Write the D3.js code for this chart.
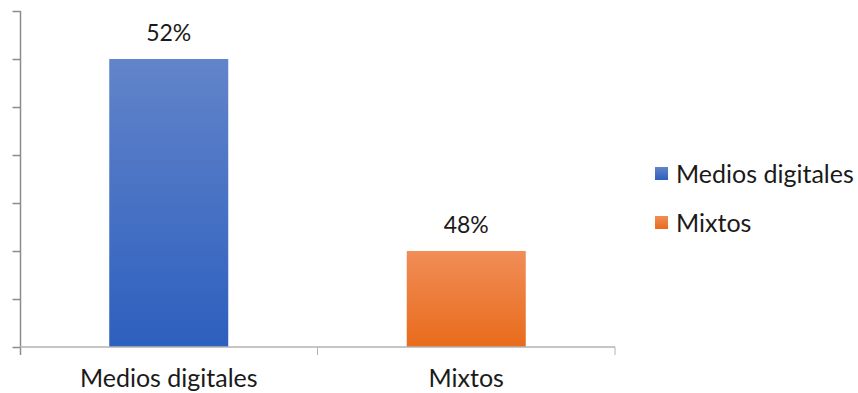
<!DOCTYPE html>
<html>
<head>
<meta charset="utf-8">
<script src="https://cdn.jsdelivr.net/npm/d3@7"></script>
<style>
  html, body { margin: 0; padding: 0; background: #fff; }
  svg { display: block; font-family: "Lato", "Open Sans", sans-serif; }
</style>
</head>
<body>
<svg id="chart" width="858" height="393"></svg>
<script>
const categories = ["Medios digitales", "Mixtos"];
const values = [0.52, 0.48];
const valueLabels = ["52%", "48%"];
const yTicks = [0.46, 0.47, 0.48, 0.49, 0.50, 0.51, 0.52, 0.53];
const gradTop = ["#6284ca", "#f18d57"];
const gradBottom = ["#2d5fbe", "#e86b1b"];

const svg = d3.select("#chart");
const margin = { left: 20 };

const x = d3.scaleBand().domain(categories).range([margin.left, 615]).paddingInner(0).paddingOuter(0);
const y = d3.scaleLinear().domain([0.46, 0.53]).range([347, 11]);

const defs = svg.append("defs");
categories.forEach((c, i) => {
  const g = defs.append("linearGradient").attr("id", "g" + i)
    .attr("x1", 0).attr("y1", 0).attr("x2", 0).attr("y2", 1);
  g.append("stop").attr("offset", "0%").attr("stop-color", gradTop[i]);
  g.append("stop").attr("offset", "100%").attr("stop-color", gradBottom[i]);
});

// bars
const barW = x.bandwidth() * 0.4;
svg.selectAll("rect.bar").data(categories).enter().append("rect")
  .attr("class", "bar")
  .attr("x", d => x(d) + x.bandwidth() / 2 - barW / 2)
  .attr("y", (d, i) => y(values[i]))
  .attr("width", barW)
  .attr("height", (d, i) => y(0.46) - y(values[i]))
  .attr("fill", (d, i) => `url(#g${i})`);

// y axis
const yAxis = d3.axisLeft(y).tickValues(yTicks).tickSize(8).tickFormat("").tickSizeOuter(0);
const yg = svg.append("g").attr("transform", `translate(${margin.left + 0.5},0)`).call(yAxis);
yg.select(".domain").remove();
yg.selectAll(".tick line").attr("stroke", "#8c8c8c").attr("stroke-width", 1.5);
svg.append("line").attr("x1", margin.left + 0.5).attr("x2", margin.left + 0.5)
  .attr("y1", y(0.53)).attr("y2", y(0.46) + 8)
  .attr("stroke", "#8c8c8c").attr("stroke-width", 1.5);

// x axis
svg.append("line").attr("x1", margin.left).attr("x2", x.range()[1])
  .attr("y1", y(0.46)).attr("y2", y(0.46))
  .attr("stroke", "#b3b3b3").attr("stroke-width", 1.5);
const bounds = categories.map(c => x(c)).concat([x.range()[1]]);
svg.selectAll("line.xt").data(bounds.slice(1)).enter().append("line")
  .attr("class", "xt")
  .attr("x1", d => d).attr("x2", d => d)
  .attr("y1", y(0.46)).attr("y2", y(0.46) + 8)
  .attr("stroke", "#b3b3b3").attr("stroke-width", 1);

// category labels
svg.selectAll("text.cat").data(categories).enter().append("text")
  .attr("class", "cat")
  .attr("x", d => x(d) + x.bandwidth() / 2)
  .attr("y", 387)
  .attr("text-anchor", "middle")
  .attr("font-size", 25)
  .attr("fill", "#1a1a1a")
  .text(d => d);

// value labels
svg.selectAll("text.val").data(categories).enter().append("text")
  .attr("class", "val")
  .attr("x", d => x(d) + x.bandwidth() / 2)
  .attr("y", (d, i) => y(values[i]) - 18)
  .attr("text-anchor", "middle")
  .attr("font-size", 23)
  .attr("fill", "#1a1a1a")
  .text((d, i) => valueLabels[i]);

// legend
const leg = svg.append("g");
categories.forEach((c, i) => {
  const ly = 174 + i * 49;
  leg.append("rect").attr("x", 655).attr("y", ly - 7).attr("width", 13).attr("height", 13)
    .attr("fill", `url(#g${i})`);
  leg.append("text").attr("x", 676).attr("y", ly + 9)
    .attr("font-size", 25).attr("fill", "#1a1a1a").text(c);
});
</script>
</body>
</html>
